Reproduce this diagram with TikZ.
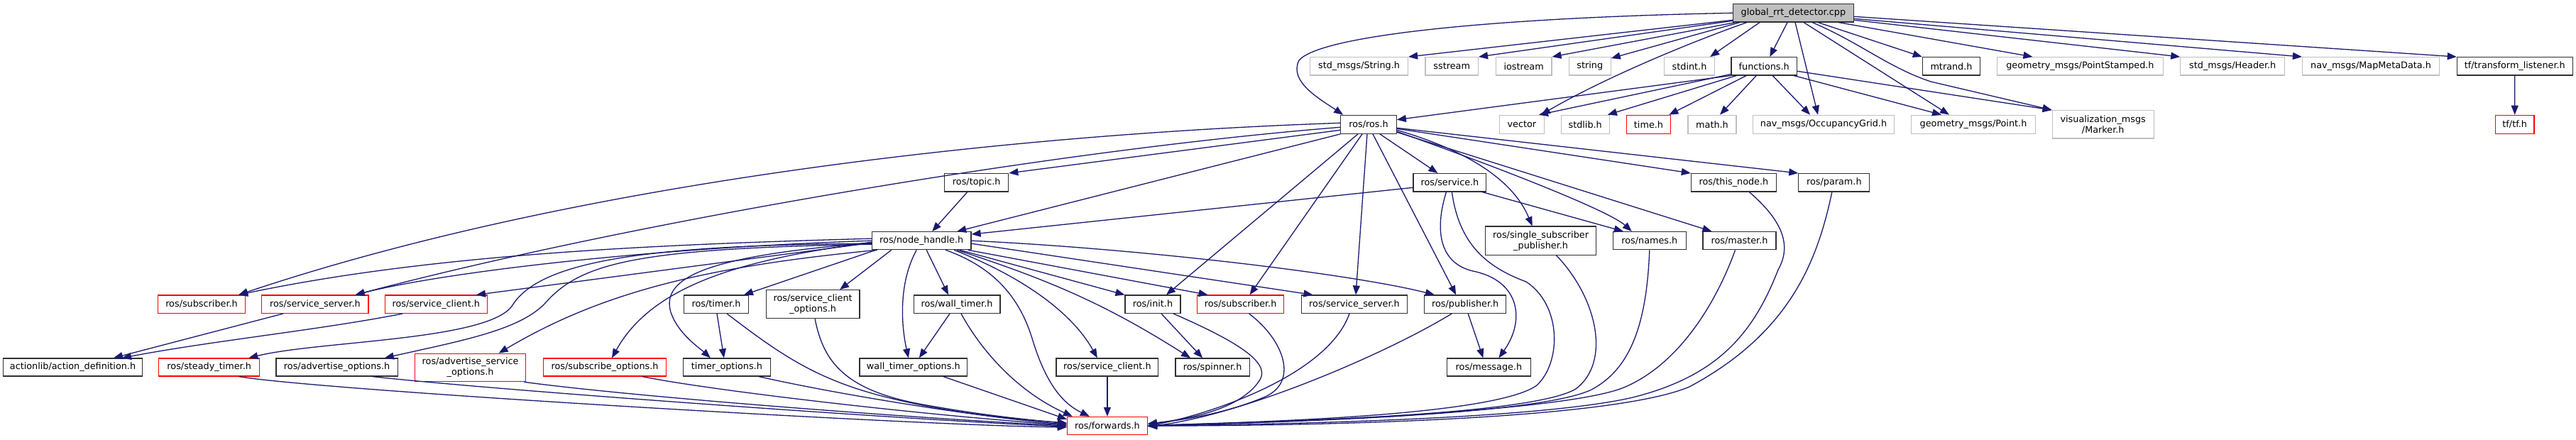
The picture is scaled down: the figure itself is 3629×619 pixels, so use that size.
\documentclass[tikz,border=0pt]{standalone}
\usepackage{fontspec}
\setmainfont{DejaVu Sans}
\usetikzlibrary{arrows.meta}
\definecolor{edgec}{HTML}{191970}
\definecolor{greyb}{HTML}{BFBFBF}
\definecolor{redb}{HTML}{FF0000}
\definecolor{gfill}{HTML}{BFBFBF}
\definecolor{blkb}{HTML}{303030}
\newcommand\fnt{\fontsize{12.8}{15}\selectfont}
\newcommand\NN[7]{\node[#1, minimum width=#5, minimum height=#6] (#2) at (#3,#4) {#7};}
\tikzset{
  nd/.style={draw, fill=white, inner sep=0pt, font=\fnt, text=black, line width=1.2pt, align=center},
  bk/.style={nd, draw=blkb},
  gb/.style={nd, draw=blkb, fill=gfill},
  gy/.style={nd, draw=greyb},
  rd/.style={nd, draw=redb},
  ed/.style={draw=edgec, line width=1.3pt, -{Triangle[length=13pt,width=10pt]}},
}
\begin{document}
\begin{tikzpicture}[x=1pt,y=-1pt]
\fill[white] (0,0) rectangle (3629,619);
\useasboundingbox (0,0) rectangle (3629,619);
% rank 0
\NN{gb}{glob}{2526.4}{18.3}{169.6}{25.3}{global\_rrt\_detector.cpp}
% rank 1
\NN{gy}{strh}{1914.5}{93.3}{138}{25.3}{std\_msgs/String.h}
\NN{gy}{sstr}{2045.2}{93.3}{74.4}{25.3}{sstream}
\NN{gy}{iost}{2146.6}{93.3}{78.6}{25.3}{iostream}
\NN{gy}{strg}{2239.8}{93.3}{58.8}{25.3}{string}
\NN{gy}{stdi}{2380}{93.3}{71}{25.3}{stdint.h}
\NN{bk}{func}{2485.2}{93.3}{92.6}{25.3}{functions.h}
\NN{bk}{mtr}{2749}{93.3}{81.3}{25.3}{mtrand.h}
\NN{gy}{pst}{2930.4}{93.3}{233.8}{25.3}{geometry\_msgs/PointStamped.h}
\NN{gy}{hdr}{3145.2}{93.3}{146.8}{25.3}{std\_msgs/Header.h}
\NN{gy}{mmd}{3340}{93.3}{193}{25.3}{nav\_msgs/MapMetaData.h}
\NN{bk}{tfl}{3542.8}{93.3}{162.9}{25.3}{tf/transform\_listener.h}
% rank 2
\NN{bk}{ros}{1928}{175.3}{78.6}{26}{ros/ros.h}
\NN{gy}{vec}{2143.9}{175.3}{63}{26}{vector}
\NN{gy}{stdl}{2233.2}{175.3}{68}{26}{stdlib.h}
\NN{rd}{tmh}{2322.5}{175.3}{62.3}{26}{time.h}
\NN{gy}{mth}{2412}{175.3}{68}{26}{math.h}
\NN{gy}{occ}{2569}{175.3}{198.8}{26}{nav\_msgs/OccupancyGrid.h}
\NN{gy}{gpt}{2780}{175.3}{174.6}{26}{geometry\_msgs/Point.h}
\NN{gy}{mk}{2962.7}{175.3}{142.8}{39.3}{visualization\_msgs\\/Marker.h}
\NN{rd}{tf}{3542.7}{175.3}{54.6}{26}{tf/tf.h}
% rank 3
\NN{bk}{topic}{1375.7}{257.3}{90}{25.5}{ros/topic.h}
\NN{bk}{serv}{2042.4}{257.3}{102.7}{25.5}{ros/service.h}
\NN{bk}{thisn}{2442.4}{257.3}{120}{25.5}{ros/this\_node.h}
\NN{bk}{param}{2583.8}{257.3}{100}{25.5}{ros/param.h}
% rank 4
\NN{bk}{nh}{1298.2}{339.2}{139.7}{25}{ros/node\_handle.h}
\NN{bk}{ssp}{2170.6}{339.2}{156}{40.3}{ros/single\_subscriber\\\_publisher.h}
\NN{bk}{names}{2323.8}{339.2}{103}{25.3}{ros/names.h}
\NN{bk}{master}{2450.5}{339.2}{103}{25.3}{ros/master.h}
% rank 5
\NN{rd}{subR}{284}{428.7}{123}{25.3}{ros/subscriber.h}
\NN{rd}{ssR}{443.9}{428.7}{150.2}{25.3}{ros/service\_server.h}
\NN{rd}{scR}{614.3}{428.7}{144.1}{25.3}{ros/service\_client.h}
\NN{bk}{timer}{1009}{428.7}{90.7}{25.3}{ros/timer.h}
\NN{bk}{sco}{1145.1}{428.7}{131.6}{40}{ros/service\_client\\\_options.h}
\NN{bk}{wt}{1348}{428.7}{121.8}{25.3}{ros/wall\_timer.h}
\NN{bk}{init}{1624}{428.7}{77.9}{25.3}{ros/init.h}
\NN{rd}{sub2}{1747.6}{428.7}{122.5}{25.3}{ros/subscriber.h}
\NN{bk}{ss2}{1908}{428.7}{149.7}{25.3}{ros/service\_server.h}
\NN{bk}{pub}{2064.2}{428.7}{115.1}{25.3}{ros/publisher.h}
% rank 6
\NN{bk}{act}{102.5}{517.5}{195.7}{25}{actionlib/action\_definition.h}
\NN{rd}{st}{294.7}{517.5}{142}{25}{ros/steady\_timer.h}
\NN{bk}{ao}{474.6}{517.5}{171.2}{25}{ros/advertise\_options.h}
\NN{rd}{aso}{662.6}{518}{156.5}{39.4}{ros/advertise\_service\\\_options.h}
\NN{rd}{so}{852}{517.5}{173.5}{25}{ros/subscribe\_options.h}
\NN{bk}{tmo}{1023.9}{517.5}{122.5}{25}{timer\_options.h}
\NN{bk}{wto}{1286.8}{517.5}{151.7}{25}{wall\_timer\_options.h}
\NN{bk}{sc2}{1559.9}{517.5}{143.9}{25}{ros/service\_client.h}
\NN{bk}{spin}{1708.1}{517.5}{104.2}{25}{ros/spinner.h}
\NN{bk}{msg}{2097.4}{517.5}{117.9}{25}{ros/message.h}
% rank 7
\NN{rd}{fwd}{1559.9}{600}{112.9}{25.3}{ros/forwards.h}

% ---- edges from global_rrt_detector.cpp
\draw[ed] (glob.west) .. controls (2100,25) and (1860,50) .. (1830,85) .. controls (1815,115) and (1860,140) .. ([xshift=4]ros.north west);
\draw[ed] ([yshift=-10]glob.west) -- (strh.north east);
\draw[ed] ([yshift=-11]glob.west) -- (sstr.north east);
\draw[ed] ([xshift=4]glob.south west) -- (iost.north east);
\draw[ed] ([xshift=10]glob.south west) -- ([yshift=-2]strg.north east);
\draw[ed] ([xshift=20]glob.south west) .. controls (2380,60) and (2260,110) .. ([xshift=-5]vec.north east);
\draw[ed] ([xshift=38]glob.south west) -- ([xshift=-7]stdi.north east);
\draw[ed] ([xshift=77]glob.south west) -- ([xshift=8]func.north);
\draw[ed] ([xshift=88]glob.south west) -- ([xshift=-8]occ.north);
\draw[ed] ([xshift=100]glob.south west) -- ([xshift=-34]gpt.north);
\draw[ed] ([xshift=112]glob.south west) .. controls (2620,60) and (2660,95) .. (2720,115) -- (mk.north west);
\draw[ed] ([xshift=120]glob.south west) -- (mtr.north west);
\draw[ed] ([xshift=149]glob.south west) -- ([xshift=-67]pst.north);
\draw[ed] ([yshift=-10]glob.east) -- (hdr.north west);
\draw[ed] ([yshift=-8]glob.east) -- (mmd.north west);
\draw[ed] ([yshift=-5]glob.east) -- (tfl.north west);
% ---- functions.h
\draw[ed] (func.south west) -- ([yshift=-7]ros.north east);
\draw[ed] ([yshift=2]func.south west) -- ([xshift=-8]vec.north east);
\draw[ed] ([xshift=8]func.south west) -- ([xshift=-3]stdl.north east);
\draw[ed] ([xshift=-25]func.south) -- ([xshift=-3]tmh.north east);
\draw[ed] ([xshift=-11]func.south) -- ([xshift=11]mth.north);
\draw[ed] ([xshift=12]func.south) -- ([xshift=-19]occ.north);
\draw[ed] ([xshift=-5]func.south east) -- ([xshift=-45]gpt.north);
\draw[ed] ([yshift=-7]func.east) -- (mk.north west);
% ---- ros/ros.h
\draw[ed] ([yshift=2]ros.west) .. controls (1400,190) and (800,260) .. ([xshift=-10]subR.north east);
\draw[ed] ([yshift=-4]ros.west) .. controls (1500,210) and (900,310) .. ([xshift=-19]ssR.north east);
\draw[ed] ([yshift=-8]ros.west) -- (topic.north east);
\draw[ed] (ros.south west) -- ([xshift=50]nh.north);
\draw[ed] ([xshift=-15]ros.south) -- ([xshift=19]init.north);
\draw[ed] ([xshift=-9]ros.south) -- ([xshift=13]sub2.north);
\draw[ed] ([xshift=-2]ros.south) -- ([xshift=2]ss2.north);
\draw[ed] ([xshift=6]ros.south) -- ([xshift=-13]pub.north);
\draw[ed] ([xshift=16]ros.south) -- ([xshift=-17]serv.north);
\draw[ed] ([yshift=-8]ros.east) .. controls (2060,210) and (2130,250) .. ([xshift=-12]ssp.north);
\draw[ed] ([yshift=-10]ros.east) .. controls (2150,250) and (2270,300) .. ([xshift=-25]names.north);
\draw[ed] ([yshift=-11]ros.east) -- ([xshift=13]master.north west);
\draw[ed] ([yshift=-6]ros.east) -- (thisn.north west);
\draw[ed] ([yshift=-5]ros.east) -- (param.north west);
% ---- ros/topic.h
\draw[ed] ([xshift=-13]topic.south) -- ([xshift=15]nh.north);
% ---- ros/service.h
\draw[ed] ([yshift=-7]serv.west) -- ([yshift=-4]nh.north east);
\draw[ed] ([xshift=-6]serv.south east) -- ([xshift=-37]names.north);
\draw[ed] ([xshift=-5]serv.south) .. controls (2022,320) and (2025,370) .. (2075,382) .. controls (2140,395) and (2150,450) .. ([xshift=14]msg.north);
\draw[ed] ([xshift=3]serv.south) .. controls (2055,340) and (2090,375) .. (2150,397) .. controls (2200,430) and (2200,510) .. (2165,543) .. controls (2100,590) and (1700,596) .. (fwd.east);
% ---- rank 3/4 to forwards
\draw[ed] ([xshift=22]ssp.south) .. controls (2250,420) and (2270,510) .. (2220,548) .. controls (2150,590) and (1700,596) .. (fwd.east);
\draw[ed] (names.south) .. controls (2320,450) and (2300,520) .. (2240,550) .. controls (2150,590) and (1700,597) .. (fwd.east);
\draw[ed] ([xshift=-6]master.south) .. controls (2420,420) and (2370,510) .. (2290,545) .. controls (2200,585) and (1700,598) .. (fwd.east);
\draw[ed] ([xshift=22]thisn.south) .. controls (2510,310) and (2525,345) .. (2505,380) .. controls (2470,470) and (2420,530) .. (2300,560) .. controls (2150,595) and (1700,599) .. (fwd.east);
\draw[ed] ([xshift=-3]param.south) .. controls (2560,370) and (2520,470) .. (2380,545) .. controls (2250,600) and (1700,600) .. (fwd.east);
% ---- ros/node_handle.h
\draw[ed] ([yshift=3]nh.west) .. controls (900,345) and (600,360) .. ([xshift=-10]subR.north east);
\draw[ed] (nh.west) .. controls (900,350) and (620,385) .. ([xshift=-19]ssR.north east);
\draw[ed] ([yshift=-3]nh.west) -- ([xshift=-16]scR.north east);
\draw[ed] ([yshift=-4]nh.west) .. controls (900,345) and (760,370) .. (722,430) .. controls (690,480) and (450,480) .. ([xshift=-16]st.north east);
\draw[ed] ([yshift=-5]nh.west) .. controls (900,350) and (820,370) .. (770,425) .. controls (735,465) and (650,480) .. ([xshift=-19]ao.north east);
\draw[ed] ([xshift=8]nh.south west) .. controls (1000,375) and (850,410) .. ([xshift=40]aso.north);
\draw[ed] ([yshift=-2]nh.west) .. controls (1050,365) and (920,400) .. ([xshift=10]so.north);
\draw[ed] ([yshift=-3]nh.west) .. controls (1000,360) and (930,390) .. (945,440) .. controls (955,470) and (985,490) .. ([xshift=-23]tmo.north);
\draw[ed] ([xshift=6]nh.south west) -- ([xshift=-7]timer.north east);
\draw[ed] ([xshift=28]nh.south west) -- ([xshift=38]sco.north);
\draw[ed] ([xshift=-7]nh.south) .. controls (1265,400) and (1270,460) .. ([xshift=-7]wto.north);
\draw[ed] ([xshift=7]nh.south) -- ([xshift=-12]wt.north);
\draw[ed] ([xshift=34]nh.south) .. controls (1410,380) and (1440,430) .. (1455,480) .. controls (1475,545) and (1500,570) .. ([xshift=-25]fwd.north);
\draw[ed] ([xshift=46]nh.south) .. controls (1440,390) and (1510,440) .. ([xshift=-14]sc2.north);
\draw[ed] ([xshift=50]nh.south) .. controls (1480,395) and (1560,430) .. ([xshift=-31]spin.north);
\draw[ed] ([xshift=54]nh.south) -- (init.north west);
\draw[ed] ([xshift=-5]nh.south east) -- ([xshift=-46]sub2.north);
\draw[ed] ([yshift=-4]nh.east) -- ([xshift=17]ss2.north west);
\draw[ed] (nh.east) .. controls (1600,350) and (1900,385) .. ([xshift=15]pub.north west);
% ---- ros/wall_timer.h
\draw[ed] ([xshift=-10]wt.south) -- ([xshift=8]wto.north);
\draw[ed] ([xshift=6]wt.south) .. controls (1380,490) and (1430,550) .. ([xshift=8]fwd.north west);
% ---- ros/timer.h
\draw[ed] ([xshift=1]timer.south) -- ([xshift=-4]tmo.north);
\draw[ed] ([xshift=15]timer.south) .. controls (1100,500) and (1150,535) .. (1250,560) .. controls (1350,585) and (1450,592) .. ([yshift=4]fwd.west);
% ---- rank 5/6 left side to forwards
\draw[ed] ([xshift=3]sco.south) .. controls (1160,510) and (1190,550) .. (1300,570) .. controls (1400,588) and (1460,592) .. ([yshift=3]fwd.west);
\draw[ed] ([xshift=45]tmo.south) .. controls (1200,560) and (1400,590) .. ([yshift=2]fwd.west);
\draw[ed] ([xshift=53]so.south) .. controls (1000,550) and (1300,585) .. ([yshift=1]fwd.west);
\draw[ed] ([xshift=-3]aso.south east) .. controls (900,560) and (1300,590) .. (fwd.west);
\draw[ed] ([xshift=50]ao.south) .. controls (700,550) and (1300,593) .. ([yshift=-1]fwd.west);
\draw[ed] ([xshift=42]st.south) .. controls (450,550) and (1300,600) .. ([yshift=-2]fwd.west);
\draw[ed] ([xshift=42]wto.south) -- ([yshift=-4]fwd.north west);
% ---- ros/init.h
\draw[ed] ([xshift=12]init.south) -- ([xshift=-14]spin.north);
\draw[ed] ([xshift=29]init.south) .. controls (1740,480) and (1790,510) .. (1775,535) .. controls (1750,575) and (1680,590) .. ([yshift=3]fwd.east);
% ---- rank 5 right side
\draw[ed] ([xshift=12]sub2.south) .. controls (1810,480) and (1830,540) .. (1780,560) .. controls (1720,585) and (1660,592) .. ([yshift=2]fwd.east);
\draw[ed] (sc2.south) -- (fwd.north);
\draw[ed] ([xshift=-7]ss2.south) .. controls (1870,530) and (1700,585) .. (fwd.east);
\draw[ed] ([xshift=-19]pub.south) .. controls (1950,500) and (1750,585) .. ([yshift=-1]fwd.east);
\draw[ed] ([xshift=4]pub.south) -- ([xshift=-8]msg.north);
% ---- to actionlib
\draw[ed] ([xshift=-47]scR.south) .. controls (450,465) and (300,480) .. ([xshift=-29]act.north east);
\draw[ed] ([xshift=-45]ssR.south) -- ([xshift=-41]act.north east);
% ---- tf
\draw[ed] (tfl.south) -- (tf.north);
\end{tikzpicture}
\end{document}
